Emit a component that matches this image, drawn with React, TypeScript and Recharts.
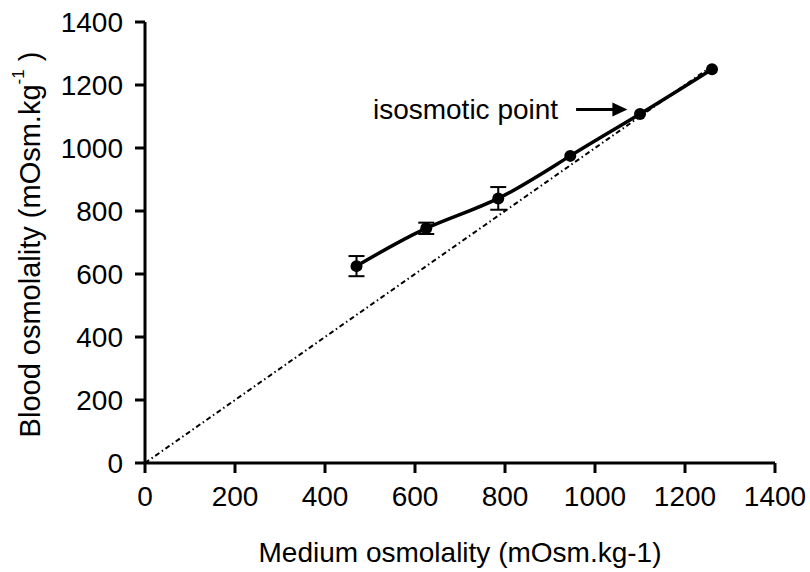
import {
  ComposedChart,
  Line,
  XAxis,
  YAxis,
  ErrorBar,
  ReferenceLine,
  Label,
} from 'recharts';

// measured points (medium vs blood osmolality)
const mediumOsm = [470, 625, 785, 945, 1100, 1260];
const bloodOsm = [625, 745, 840, 975, 1108, 1250];
const bloodErr = [32, 18, 36, 0, 0, 0];

// isosmotic line (y = x)
const isoX = [0, 1250];

const axisTicks = [0, 200, 400, 600, 800, 1000, 1200, 1400];

// annotation arrow, in data units
const arrowFrom = { x: 958, y: 1122 };
const arrowTo = { x: 1072, y: 1122 };
const arrowText = 'isosmotic point';

const FONT = '"Liberation Sans", Arial, sans-serif';
const FS = 28;

const measured = mediumOsm.map((x, i) => ({ x, y: bloodOsm[i], err: bloodErr[i] }));
const isoLine = isoX.map((x) => ({ x, iso: x }));

const ArrowShape = (props: any) => {
  const { x1, y1, x2, y2 } = props;
  return (
    <g>
      <line x1={x1} y1={y1} x2={x2 - 10} y2={y2} stroke="#000" strokeWidth={3} />
      <polygon points={`${x2},${y2} ${x2 - 15},${y2 - 7} ${x2 - 15},${y2 + 7}`} fill="#000" />
      <text
        x={x1 - 18}
        y={y1}
        dy="0.35em"
        textAnchor="end"
        fontFamily={FONT}
        fontSize={FS}
        fill="#000"
      >
        {arrowText}
      </text>
    </g>
  );
};

const YLabel = (props: any) => {
  const { viewBox } = props;
  const cy = viewBox.y + viewBox.height / 2 + 2;
  const cx = 30;
  return (
    <text
      x={cx}
      y={cy}
      transform={`rotate(-90, ${cx}, ${cy})`}
      textAnchor="middle"
      dominantBaseline="central"
      fontFamily={FONT}
      fontSize={29}
      fill="#000"
    >
      Blood osmolality (mOsm.kg
      <tspan fontSize={17} dy={-12}>-1</tspan>
      <tspan dy={12}> )</tspan>
    </text>
  );
};

export default function App() {
  const tick = { fontFamily: FONT, fontSize: FS, fill: '#000' };
  return (
    <div style={{ width: 810, height: 572 }}>
      <style>{'body{margin:0}'}</style>
      <ComposedChart
        width={810}
        height={572}
        margin={{ top: 22, right: 35, bottom: 0, left: 0 }}
        style={{ background: '#fff' }}
      >
        <XAxis
          type="number"
          dataKey="x"
          domain={[0, 1400]}
          ticks={axisTicks}
          allowDataOverflow
          height={109}
          tick={tick}
          tickSize={10}
          tickMargin={13}
          axisLine={{ stroke: '#000', strokeWidth: 3 }}
          tickLine={{ stroke: '#000', strokeWidth: 3 }}
        >
          <Label
            value="Medium osmolality (mOsm.kg-1)"
            position="insideBottom"
            offset={10}
            style={{ fontFamily: FONT, fontSize: FS, fill: '#000' }}
          />
        </XAxis>
        <YAxis
          type="number"
          domain={[0, 1400]}
          ticks={axisTicks}
          width={145}
          tick={tick}
          tickSize={10}
          tickMargin={12}
          axisLine={{ stroke: '#000', strokeWidth: 3 }}
          tickLine={{ stroke: '#000', strokeWidth: 3 }}
        >
          <Label content={<YLabel />} />
        </YAxis>
        <Line
          data={isoLine}
          dataKey="iso"
          type="linear"
          stroke="#000"
          strokeWidth={2}
          strokeDasharray="5 3 1.5 3"
          dot={false}
          activeDot={false}
          isAnimationActive={false}
        />
        <Line
          data={measured}
          dataKey="y"
          type="natural"
          stroke="#000"
          strokeWidth={3.5}
          dot={{ r: 6, fill: '#000', stroke: '#000', strokeWidth: 0 }}
          activeDot={false}
          isAnimationActive={false}
        >
          <ErrorBar dataKey="err" direction="y" width={8} stroke="#000" strokeWidth={2} />
        </Line>
        <ReferenceLine
          segment={[arrowFrom, arrowTo]}
          shape={<ArrowShape />}
          ifOverflow="visible"
        />
      </ComposedChart>
    </div>
  );
}
